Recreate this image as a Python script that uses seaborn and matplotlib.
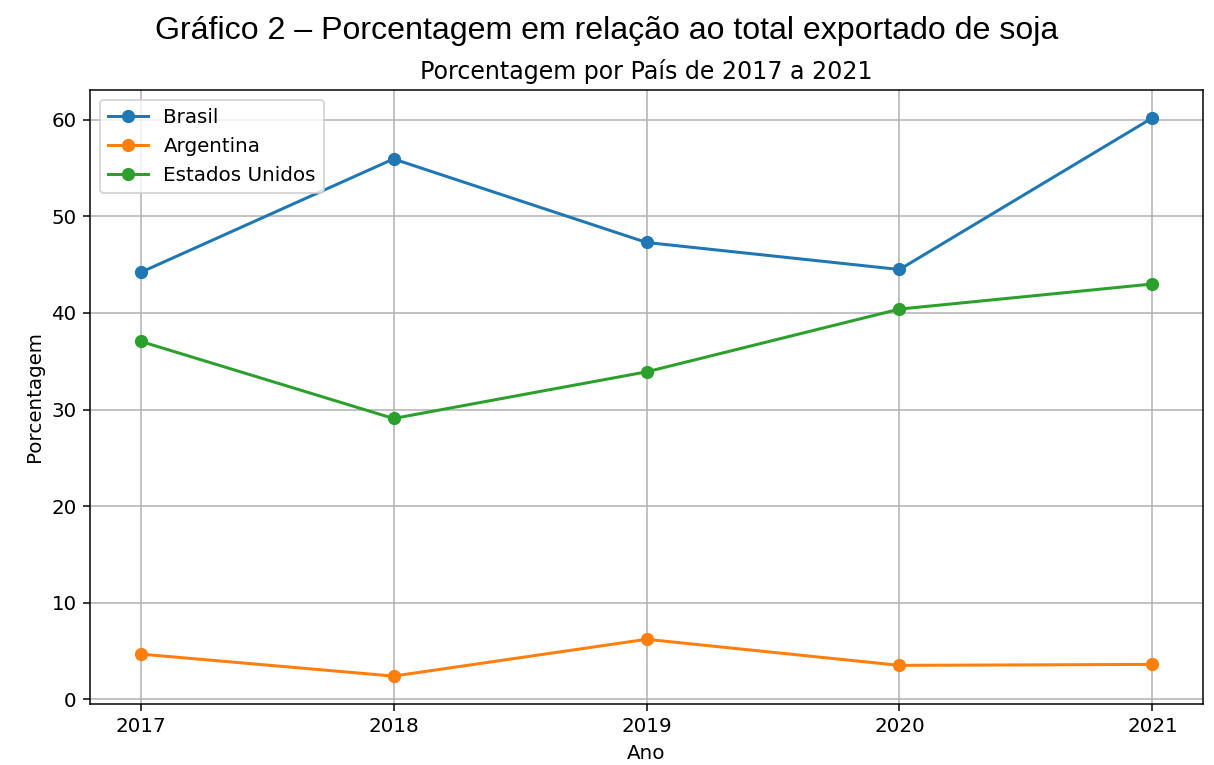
import matplotlib
matplotlib.use("Agg")
import matplotlib.pyplot as plt
import seaborn as sns
import pandas as pd

anos = [2017, 2018, 2019, 2020, 2021]
paises = ["Brasil", "Argentina", "Estados Unidos"]
brasil = [44.2, 55.95, 47.3, 44.5, 60.2]
argentina = [4.67, 2.39, 6.2, 3.5, 3.6]
estados_unidos = [37.06, 29.07, 33.9, 40.4, 43.0]

df = pd.DataFrame({
    "Ano": anos * 3,
    "Porcentagem": brasil + argentina + estados_unidos,
    "País": [p for p in paises for _ in anos],
})

plt.rcParams["font.size"] = 10.5

dpi = 136
fig = plt.figure(figsize=(1214 / dpi, 765 / dpi), dpi=dpi)
ax = fig.add_axes([90 / 1214, 1 - 704 / 765, (1203 - 90) / 1214, (704 - 90) / 765])

palette = ["#1f77b4", "#ff7f0e", "#2ca02c"]
sns.lineplot(data=df, x="Ano", y="Porcentagem", hue="País", palette=palette,
             marker="o", markersize=7, markeredgewidth=0, linewidth=1.6, ax=ax)

ax.set_xticks(anos)
ax.set_xticklabels([str(a) for a in anos])
ax.grid(True)
ax.set_title("Porcentagem por País de 2017 a 2021", fontsize=12.6)
ax.set_xlabel("Ano")
ax.set_ylabel("Porcentagem")
ax.legend(title=None, loc="upper left")

fig.text(0.5, 1 - 31 / 765, "Gráfico 2 – Porcentagem em relação ao total exportado de soja",
         ha="center", va="center", fontsize=17, family=["Liberation Sans", "DejaVu Sans"])

fig.savefig("out.png", dpi=dpi)
